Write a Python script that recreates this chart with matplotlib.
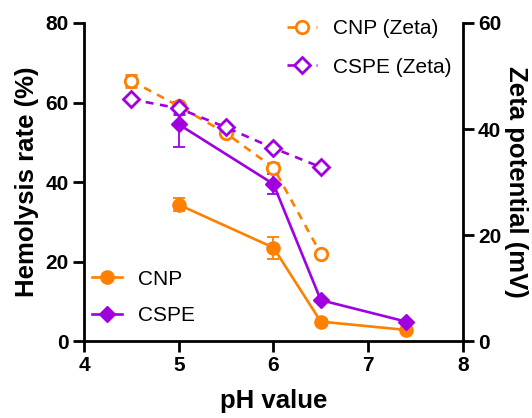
import matplotlib.pyplot as plt
from matplotlib.lines import Line2D

plt.rcParams['font.family'] = ['Liberation Sans', 'DejaVu Sans']

# hemolysis data (left axis)
ph_hemo = [5, 6, 6.5, 7.4]
cnp_hemo = [34.3, 23.5, 4.9, 2.8]
cnp_hemo_err = [1.7, 2.8, 0, 0]
cspe_hemo = [54.5, 39.5, 10.3, 4.9]
cspe_hemo_err = [5.6, 2.4, 0, 0]

# zeta potential data (right axis)
ph_zeta = [4.5, 5, 5.5, 6, 6.5]
cnp_zeta = [49.1, 44.3, 39.2, 32.7, 16.5]
cnp_zeta_err = [1.1, 0.6, 0, 0.8, 0]
cspe_zeta = [45.6, 43.9, 40.3, 36.4, 32.8]
cspe_zeta_err = [0, 1.0, 0, 0, 0]

orange = '#FF8000'
purple = '#A000E0'

fig = plt.figure(figsize=(5.32, 4.18), dpi=100)
ax = fig.add_axes([0.158, 0.184, 0.712, 0.761])
ax2 = ax.twinx()

lw = 1.9
ax.errorbar(ph_hemo, cnp_hemo, yerr=cnp_hemo_err, color=orange, lw=lw, marker='o',
            ms=9.5, capsize=4, elinewidth=1.3, capthick=1.3)
ax.errorbar(ph_hemo, cspe_hemo, yerr=cspe_hemo_err, color=purple, lw=lw, marker='D',
            ms=8, capsize=4, elinewidth=1.3, capthick=1.3)

ax2.errorbar(ph_zeta, cnp_zeta, yerr=cnp_zeta_err, color=orange, lw=lw, marker='o',
             ms=9, mfc='white', mew=2, dashes=(3, 2.5), capsize=4, elinewidth=1.3,
             capthick=1.3)
ax2.errorbar(ph_zeta, cspe_zeta, yerr=cspe_zeta_err, color=purple, lw=lw, marker='D',
             ms=8, mfc='white', mew=2, dashes=(3, 2.5), capsize=4, elinewidth=1.3,
             capthick=1.3)

ax.set_xlim(4, 8)
ax.set_ylim(0, 80)
ax2.set_ylim(0, 60)
ax.set_xticks([4, 5, 6, 7, 8])
ax.set_yticks([0, 20, 40, 60, 80])
ax2.set_yticks([0, 20, 40, 60])

for a in (ax, ax2):
    a.spines['top'].set_visible(False)
    for s in a.spines.values():
        s.set_linewidth(2)
    a.tick_params(width=2, length=8, labelsize=15, pad=3)
    for lab in a.get_xticklabels() + a.get_yticklabels():
        lab.set_fontweight('bold')
ax.spines['right'].set_visible(False)
ax2.spines['left'].set_visible(False)
ax2.spines['bottom'].set_visible(False)

ax.set_xlabel('pH value', fontsize=18.5, fontweight='bold', labelpad=10)
ax.set_ylabel('Hemolysis rate (%)', fontsize=18.5, fontweight='bold', labelpad=5)
ax2.set_ylabel('Zeta potential (mV)', fontsize=18.5, fontweight='bold', rotation=270,
               labelpad=19)

# legend handles without error bars
hemo_handles = [
    Line2D([], [], color=orange, lw=lw, marker='o', ms=9.5),
    Line2D([], [], color=purple, lw=lw, marker='D', ms=8),
]
zeta_handles = [
    Line2D([], [], color=orange, lw=lw, marker='o', ms=9, mfc='white', mew=2, dashes=(3, 2.5)),
    Line2D([], [], color=purple, lw=lw, marker='D', ms=8, mfc='white', mew=2, dashes=(3, 2.5)),
]
leg_kw = dict(frameon=False, fontsize=15, handlelength=1.45, handletextpad=0.75,
              labelspacing=0.85, borderpad=0, borderaxespad=0)
ax.legend(hemo_handles, ['CNP', 'CSPE'], loc='upper left', bbox_to_anchor=(0.173, 0.355),
          bbox_transform=fig.transFigure, **leg_kw)
ax2.legend(zeta_handles, ['CNP (Zeta)', 'CSPE (Zeta)'], loc='upper left',
           bbox_to_anchor=(0.54, 0.955), bbox_transform=fig.transFigure,
           **dict(leg_kw, labelspacing=0.95))

fig.savefig('out.png', dpi=100)
